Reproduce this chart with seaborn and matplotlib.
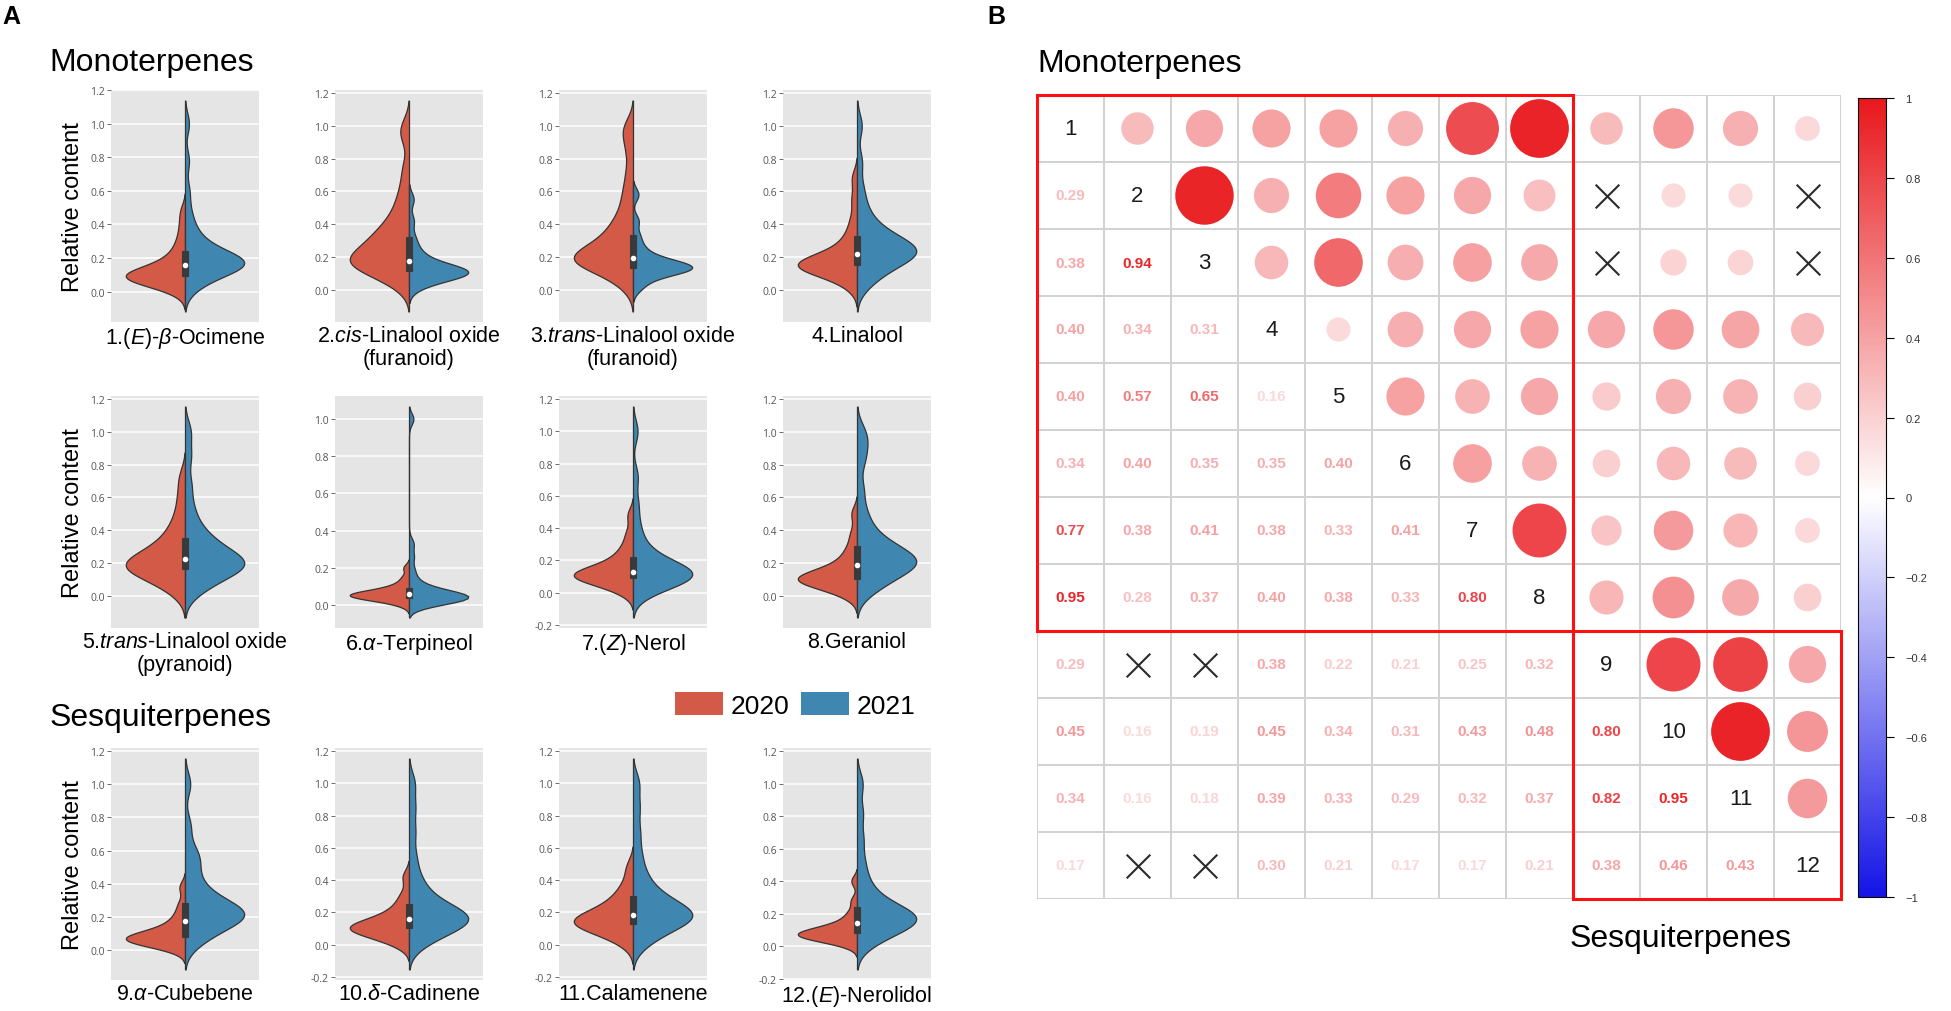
import numpy as np
import pandas as pd
import matplotlib
matplotlib.use("Agg")
from matplotlib import pyplot as plt
from matplotlib.colors import LinearSegmentedColormap, ListedColormap, Normalize
from matplotlib.patches import Patch, Rectangle
from matplotlib.ticker import MultipleLocator, FormatStrFormatter, FuncFormatter
import seaborn as sns

plt.rcParams['font.family'] = ['Liberation Sans', 'DejaVu Sans']
plt.rcParams['mathtext.fontset'] = 'custom'
plt.rcParams['mathtext.rm'] = 'Liberation Sans'
plt.rcParams['mathtext.it'] = 'Liberation Sans:italic'

# ---- panel A data: relative content samples per compound, 2020 / 2021 ----
names = ["1.($\\mathit{E}$)-$\\mathit{β}$-Ocimene",
         "2.$\\mathit{cis}$-Linalool oxide\n(furanoid)",
         "3.$\\mathit{trans}$-Linalool oxide\n(furanoid)",
         "4.Linalool",
         "5.$\\mathit{trans}$-Linalool oxide\n(pyranoid)",
         "6.$\\mathit{α}$-Terpineol",
         "7.($\\mathit{Z}$)-Nerol",
         "8.Geraniol",
         "9.$\\mathit{α}$-Cubebene",
         "10.$\\mathit{δ}$-Cadinene",
         "11.Calamenene",
         "12.($\\mathit{E}$)-Nerolidol"]
years = ["2020", "2021"]

y2020 = [
    [0.00,0.02,0.04,0.05,0.06,0.07,0.07,0.08,0.08,0.09,0.09,0.10,0.10,0.11,0.11,0.12,0.13,0.14,0.15,0.17,0.19,0.21,0.24,0.28,0.33,0.40,0.48],
    [0.02,0.06,0.09,0.11,0.13,0.14,0.15,0.16,0.17,0.18,0.19,0.20,0.22,0.23,0.25,0.27,0.29,0.31,0.33,0.35,0.38,0.41,0.45,0.50,0.56,0.64,0.75,0.93,1.00],
    [0.02,0.07,0.10,0.13,0.15,0.16,0.17,0.18,0.18,0.19,0.20,0.21,0.22,0.24,0.26,0.28,0.30,0.33,0.36,0.39,0.43,0.48,0.55,0.62,0.72,0.85,0.95,1.00],
    [0.02,0.06,0.09,0.11,0.12,0.13,0.14,0.14,0.15,0.15,0.16,0.17,0.18,0.19,0.21,0.23,0.26,0.30,0.35,0.43,0.55,0.68],
    [0.02,0.06,0.09,0.12,0.14,0.15,0.16,0.17,0.18,0.19,0.20,0.21,0.22,0.24,0.26,0.28,0.31,0.34,0.38,0.43,0.50,0.60,0.72],
    [0.00,0.02,0.03,0.03,0.04,0.04,0.05,0.05,0.05,0.06,0.06,0.06,0.07,0.07,0.08,0.09,0.10,0.12,0.15,0.20],
    [0.00,0.03,0.05,0.07,0.08,0.09,0.10,0.10,0.11,0.11,0.12,0.13,0.14,0.15,0.17,0.19,0.22,0.25,0.30,0.37,0.48],
    [0.00,0.03,0.05,0.07,0.08,0.09,0.09,0.10,0.10,0.11,0.12,0.13,0.14,0.16,0.18,0.21,0.25,0.30,0.38,0.50],
    [0.01,0.03,0.04,0.05,0.06,0.06,0.07,0.07,0.08,0.08,0.09,0.10,0.11,0.13,0.15,0.18,0.22,0.28,0.38],
    [0.00,0.03,0.05,0.07,0.08,0.09,0.10,0.10,0.11,0.12,0.13,0.14,0.16,0.18,0.21,0.25,0.31,0.42],
    [0.01,0.05,0.08,0.10,0.11,0.12,0.13,0.14,0.15,0.16,0.17,0.18,0.20,0.22,0.25,0.28,0.32,0.38,0.48],
    [0.01,0.03,0.04,0.05,0.06,0.06,0.07,0.07,0.08,0.08,0.09,0.10,0.11,0.12,0.14,0.17,0.21,0.28,0.40],
]
y2021 = [
    [0.02,0.05,0.08,0.10,0.12,0.13,0.14,0.15,0.16,0.16,0.17,0.17,0.18,0.18,0.19,0.20,0.21,0.22,0.24,0.26,0.28,0.31,0.35,0.40,0.48,0.60,0.78,1.00],
    [0.01,0.04,0.06,0.07,0.08,0.09,0.09,0.10,0.10,0.11,0.11,0.12,0.12,0.13,0.14,0.15,0.17,0.19,0.22,0.26,0.32,0.42,0.55],
    [0.01,0.05,0.08,0.10,0.11,0.12,0.12,0.13,0.13,0.14,0.14,0.15,0.16,0.17,0.18,0.20,0.23,0.27,0.33,0.42,0.58],
    [0.02,0.07,0.10,0.13,0.15,0.17,0.19,0.20,0.21,0.22,0.23,0.24,0.25,0.26,0.27,0.28,0.30,0.32,0.34,0.37,0.40,0.45,0.52,0.62,0.78,1.00],
    [0.02,0.06,0.09,0.12,0.14,0.16,0.17,0.18,0.19,0.20,0.21,0.22,0.24,0.26,0.28,0.30,0.33,0.36,0.40,0.46,0.55,0.68,0.85,1.00],
    [0.00,0.01,0.02,0.02,0.03,0.03,0.04,0.04,0.04,0.05,0.05,0.05,0.06,0.06,0.07,0.08,0.09,0.11,0.14,0.19,0.26,0.33,1.00],
    [0.00,0.03,0.05,0.07,0.08,0.09,0.10,0.10,0.11,0.12,0.13,0.14,0.15,0.16,0.18,0.20,0.23,0.27,0.33,0.42,0.55,0.72,1.00],
    [0.02,0.06,0.09,0.12,0.14,0.16,0.18,0.19,0.20,0.21,0.22,0.23,0.25,0.27,0.29,0.31,0.34,0.38,0.44,0.52,0.65,0.82,0.92,1.00],
    [0.04,0.08,0.11,0.14,0.16,0.18,0.19,0.20,0.21,0.22,0.23,0.24,0.25,0.27,0.29,0.31,0.34,0.38,0.43,0.50,0.56,0.60,0.75,1.00],
    [0.00,0.04,0.07,0.09,0.11,0.13,0.14,0.15,0.16,0.17,0.18,0.19,0.21,0.23,0.25,0.28,0.32,0.37,0.44,0.55,0.70,0.85,1.00],
    [0.00,0.05,0.08,0.11,0.13,0.15,0.16,0.17,0.18,0.19,0.20,0.22,0.24,0.26,0.28,0.31,0.35,0.40,0.47,0.57,0.70,0.85,1.00],
    [0.01,0.05,0.08,0.10,0.12,0.14,0.15,0.16,0.17,0.18,0.19,0.20,0.22,0.24,0.27,0.30,0.35,0.42,0.52,0.66,0.82,1.00],
]

# ---- panel B data: correlation matrix (lower triangle), 1-based insignificant pairs ----
corr_lower = [
    [],
    [0.29],
    [0.38, 0.94],
    [0.40, 0.34, 0.31],
    [0.40, 0.57, 0.65, 0.16],
    [0.34, 0.40, 0.35, 0.35, 0.40],
    [0.77, 0.38, 0.41, 0.38, 0.33, 0.41],
    [0.95, 0.28, 0.37, 0.40, 0.38, 0.33, 0.80],
    [0.29, 0.10, 0.12, 0.38, 0.22, 0.21, 0.25, 0.32],
    [0.45, 0.16, 0.19, 0.45, 0.34, 0.31, 0.43, 0.48, 0.80],
    [0.34, 0.16, 0.18, 0.39, 0.33, 0.29, 0.32, 0.37, 0.82, 0.95],
    [0.17, 0.10, 0.11, 0.30, 0.21, 0.17, 0.17, 0.21, 0.38, 0.46, 0.43],
]
insig = [(9, 2), (9, 3), (12, 2), (12, 3)]
cbar_ticks = [-1, -0.8, -0.6, -0.4, -0.2, 0, 0.2, 0.4, 0.6, 0.8, 1]

pal = {"2020": "#D25A47", "2021": "#3F86B1"}
W, H = 1951, 1012


def px_axes(fig, x, y, w, h):
    return fig.add_axes([x / W, 1 - (y + h) / H, w / W, h / H])


def nrd0(kde):
    # ggplot-like bandwidth (bw.nrd0), widened a bit and capped
    d = kde.dataset[0]
    sd = d.std(ddof=1)
    q75, q25 = np.percentile(d, [75, 25])
    h = 0.9 * min(sd, (q75 - q25) / 1.34) * len(d) ** -0.2
    return min(1.3 * h, 0.07) / sd


fig = plt.figure(figsize=(W / 100, H / 100), dpi=100)

col_x = [111, 335, 559, 783]
row_y = [91, 397, 749]
for k in range(12):
    r, c = divmod(k, 4)
    ax = px_axes(fig, col_x[c], row_y[r], 148, 232)
    df = pd.DataFrame({
        "value": y2020[k] + y2021[k],
        "year": ["2020"] * len(y2020[k]) + ["2021"] * len(y2021[k]),
        "cmp": "c",
    })
    sns.violinplot(data=df, x="cmp", y="value", hue="year", hue_order=years,
                   split=True, palette=pal, density_norm="width", cut=2.2,
                   bw_method=nrd0, inner=None, linewidth=0.9, linecolor="#333333",
                   saturation=1, legend=False, ax=ax)
    sns.boxplot(data=df, x="cmp", y="value", width=0.04, showfliers=False, showcaps=False,
                color="#3a3a3a", linecolor="#3a3a3a", linewidth=0.8, saturation=1,
                medianprops=dict(visible=False), ax=ax)
    sns.pointplot(data=df, x="cmp", y="value", estimator="median", errorbar=None,
                  color="white", markersize=2.0, linestyle="none", ax=ax)
    ax.set_facecolor("#E5E5E5")
    ax.margins(y=0.05)
    ax.autoscale(axis="y")
    ax.yaxis.set_major_locator(MultipleLocator(0.2))
    ax.yaxis.set_major_formatter(FormatStrFormatter("%.1f"))
    ax.grid(axis="y", color="white", lw=1.1)
    ax.set_axisbelow(True)
    ax.set_xticks([])
    for s in ax.spines.values():
        s.set_visible(False)
    ax.tick_params(axis="y", length=3, width=0.6, color="#555555", pad=1.5,
                   labelsize=7.5, labelcolor="#555555")
    for t in ax.get_yticklabels():
        t.set_family("Open Sans")
    ax.set_xlabel(names[k], fontsize=15.5, labelpad=2, linespacing=1.15)
    ax.set_ylabel("Relative content" if c == 0 else "", fontsize=17, labelpad=4)

fig.text(2 / W, 1 - 24 / H, "A", fontsize=18, fontweight="bold", va="baseline")
fig.text(987 / W, 1 - 24 / H, "B", fontsize=18, fontweight="bold", va="baseline")
fig.text(49 / W, 1 - 71 / H, "Monoterpenes", fontsize=23, va="baseline")
fig.text(50 / W, 1 - 726 / H, "Sesquiterpenes", fontsize=23, va="baseline")
fig.text(1037 / W, 1 - 72 / H, "Monoterpenes", fontsize=23, va="baseline")
fig.text(1570 / W, 1 - 947 / H, "Sesquiterpenes", fontsize=23, va="baseline")

fig.legend(handles=[Patch(facecolor=pal[y], label=y) for y in years],
           loc="center left", bbox_to_anchor=(675 / W, 1 - 706 / H), ncol=2,
           frameon=False, fontsize=19, handlelength=1.8, handleheight=0.95,
           handletextpad=0.3, columnspacing=0.45, borderpad=0, borderaxespad=0)

# ---- panel B: corrplot-like matrix ----
n = 12
corr = np.eye(n)
for i in range(n):
    for j in range(i):
        corr[i, j] = corr[j, i] = corr_lower[i][j]
cmap = LinearSegmentedColormap.from_list("bwr_c", ["#1414E6", "#FFFFFF", "#E8181C"])
norm = Normalize(-1, 1)
skip = set()
for a, b in insig:
    skip.add((a - 1, b - 1))
    skip.add((b - 1, a - 1))

axm = px_axes(fig, 1037, 96, 804, 804)
sns.heatmap(np.zeros((n, n)), ax=axm, cmap=ListedColormap(["white"]), vmin=0, vmax=1,
            cbar=False, linewidths=1.1, linecolor="#D2D2D2",
            xticklabels=False, yticklabels=False)

up = pd.DataFrame([(j + 0.5, i + 0.5, corr[i, j], abs(corr[i, j]))
                   for i in range(n) for j in range(i + 1, n) if (i, j) not in skip],
                  columns=["x", "y", "r", "absr"])
cell_pt = 804 / n * 72 / 100
sns.scatterplot(data=up, x="x", y="y", hue="r", size="absr", palette=cmap, hue_norm=norm,
                sizes=(0, (0.9 * cell_pt) ** 2), size_norm=(0, 1), linewidth=0,
                legend=False, ax=axm)
xs = pd.DataFrame([(j + 0.5, i + 0.5) for (i, j) in sorted(skip)], columns=["x", "y"])
axm.scatter(xs["x"], xs["y"], marker="x", s=290, color="#2a2a2a", linewidths=1.5, zorder=4)
for i in range(n):
    axm.text(i + 0.5, i + 0.5, str(i + 1), ha="center", va="center", fontsize=16, color="#1a1a1a")
    for j in range(i):
        if (i, j) in skip:
            continue
        axm.text(j + 0.5, i + 0.5, "%.2f" % corr[i, j], ha="center", va="center",
                 fontsize=11, fontweight="bold", color=cmap(norm(corr[i, j])))
axm.add_patch(Rectangle((0, 0), 8, 8, fill=False, ec="#FF1010", lw=2.2, clip_on=False, zorder=5))
axm.add_patch(Rectangle((8, 8), 4, 4, fill=False, ec="#FF1010", lw=2.2, clip_on=False, zorder=5))
axm.set_xlim(0, n)
axm.set_ylim(n, 0)
axm.set_xlabel("")
axm.set_ylabel("")

cax = px_axes(fig, 1858, 99, 28, 799)
cb = fig.colorbar(plt.cm.ScalarMappable(norm=norm, cmap=cmap), cax=cax)
cb.set_ticks(cbar_ticks)
cb.ax.yaxis.set_major_formatter(FuncFormatter(lambda v, p: ("%g" % v).replace("-", "\u2212")))
cb.outline.set_linewidth(0.8)
cb.ax.tick_params(length=6, width=0.8, labelsize=8, labelcolor="#333333", pad=8)

fig.savefig("out.png", dpi=100)
